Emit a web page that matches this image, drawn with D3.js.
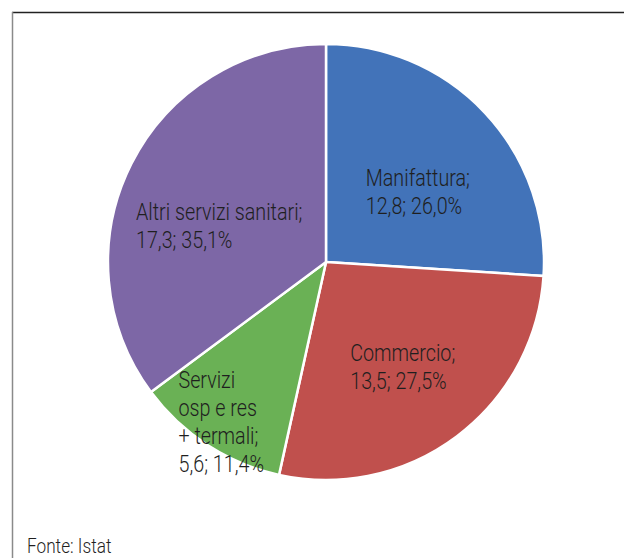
<!DOCTYPE html>
<html>
<head>
<meta charset="utf-8">
<script src="https://cdn.jsdelivr.net/npm/d3@7"></script>
<style>
  body { margin: 0; background: #fff; }
  text { font-family: Roboto, "Liberation Sans", sans-serif; font-weight: 300; }
</style>
</head>
<body>
<svg id="chart"></svg>
<script>
// data
var categories = ["Manifattura", "Commercio", "Servizi osp e res + termali", "Altri servizi sanitari"];
var values = [12.8, 13.5, 5.6, 17.3];
var labelLines = [
    ["Manifattura;", "12,8; 26,0%"],
    ["Commercio;", "13,5; 27,5%"],
    ["Servizi", "osp e res", "+ termali;", "5,6; 11,4%"],
    ["Altri servizi sanitari;", "17,3; 35,1%"]
];
var colors = ["#4273B9", "#C0504D", "#6AB155", "#7D67A6"];

// layout
var width = 624, height = 558;
var cx = 326, cy = 262, radius = 218;
var labelDist = [115, 131, 189, 115];
var labelNudge = [[8, 9], [-2, 0], [-2, 1], [-4, 16]];
var lineHeight = 28;
var squeeze = 0.84; // condensed look

var svg = d3.select("#chart")
    .attr("width", width)
    .attr("height", height);

// frame lines (top + left)
svg.append("line")
    .attr("x1", 12).attr("x2", width).attr("y1", 12.5).attr("y2", 12.5)
    .attr("stroke", "#222").attr("stroke-width", 1.5);
svg.append("line")
    .attr("x1", 12.5).attr("x2", 12.5).attr("y1", 12).attr("y2", height)
    .attr("stroke", "#8a8a8a").attr("stroke-width", 1.5);

var pie = d3.pie().sort(null).value(function(d) { return d; });
var arcs = pie(values);

var arc = d3.arc().innerRadius(0).outerRadius(radius);

var g = svg.append("g")
    .attr("transform", "translate(" + cx + "," + cy + ")");

g.selectAll("path.slice")
    .data(arcs)
    .enter().append("path")
    .attr("class", "slice")
    .attr("d", arc)
    .attr("fill", function(d, i) { return colors[i]; })
    .attr("stroke", "#fff")
    .attr("stroke-width", 2.5)
    .attr("stroke-linejoin", "round");

// labels: left-aligned block centred on a point along the mid angle
arcs.forEach(function(d, i) {
    var mid = (d.startAngle + d.endAngle) / 2;
    var px = labelDist[i] * Math.sin(mid) + labelNudge[i][0];
    var py = -labelDist[i] * Math.cos(mid) + labelNudge[i][1];
    var lines = labelLines[i];

    var t = g.append("text")
        .attr("fill", "#1f1f1f")
        .style("font-size", "23.5px");
    lines.forEach(function(s, j) {
        t.append("tspan")
            .attr("x", 0)
            .attr("y", j * lineHeight)
            .text(s);
    });
    var bb = t.node().getBBox();
    var tx = px - bb.width * squeeze / 2;
    var ty = py - (lines.length - 1) * lineHeight / 2 + 8;
    t.attr("transform", "translate(" + tx + "," + ty + ") scale(" + squeeze + ",1)");
});

// source note
svg.append("text")
    .attr("transform", "translate(27,553) scale(" + squeeze + ",1)")
    .attr("fill", "#1f1f1f")
    .style("font-size", "20.5px")
    .text("Fonte: Istat");
</script>
</body>
</html>
